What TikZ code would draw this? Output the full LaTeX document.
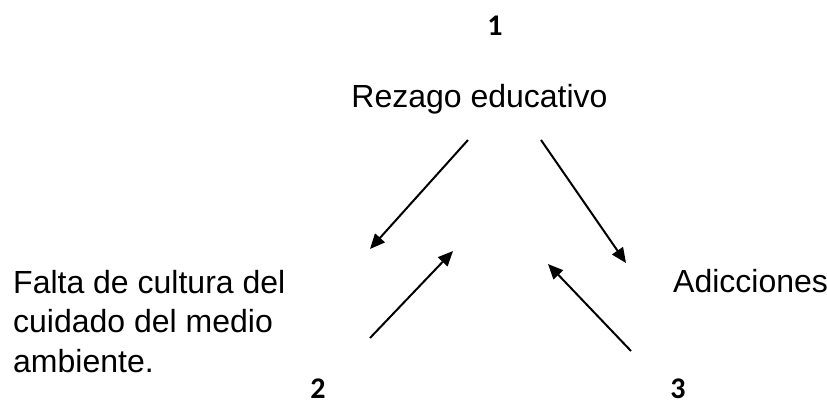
\documentclass[tikz,border=0pt]{standalone}
\usepackage{fontspec}
\setmainfont{Liberation Sans}
\newfontfamily\numfont{Carlito}
\usetikzlibrary{arrows.meta}
\begin{document}
\begin{tikzpicture}[x=1pt,y=-1pt,
  lbl/.style={font=\fontsize{32}{39.5}\selectfont, inner sep=0pt},
  num/.style={font=\numfont\bfseries\fontsize{30}{32}\selectfont, inner sep=0pt, anchor=base},
  arr/.style={line width=2pt, -{Triangle[length=15pt,width=13pt]}}]
\useasboundingbox (0,0) rectangle (827,405);
\node[num] (n1) at (495,35) {1};
\node[lbl, anchor=base] (rez) at (479.5,107) {Rezago educativo};
\node[lbl, anchor=base west, align=left] (falta) at (13,372) {Falta de cultura del\\cuidado del medio\\ambiente.};
\node[lbl, anchor=base west] (adic) at (673,292) {Adicciones};
\node[num] (n2) at (318,398) {2};
\node[num] (n3) at (678,398) {3};
\coordinate (a1) at (468,140); \coordinate (a2) at (370,249);
\coordinate (b1) at (541,140); \coordinate (b2) at (626,263);
\coordinate (c1) at (370,338); \coordinate (c2) at (453,251);
\coordinate (d1) at (631,351); \coordinate (d2) at (548,264);
\draw[arr] (a1) -- (a2);
\draw[arr] (b1) -- (b2);
\draw[arr] (c1) -- (c2);
\draw[arr] (d1) -- (d2);
\end{tikzpicture}
\end{document}
